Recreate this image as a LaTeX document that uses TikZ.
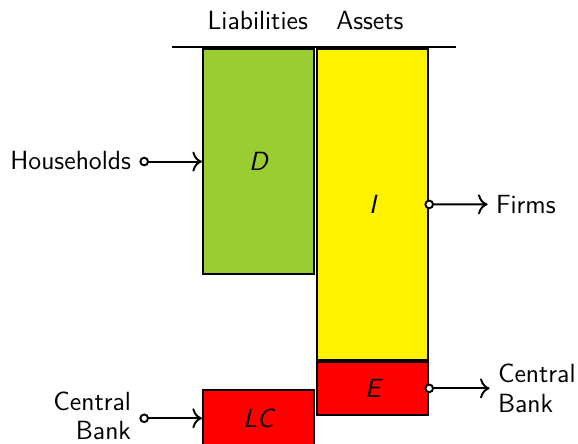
\documentclass[tikz,border=0pt]{standalone}
\usepackage{tikz}
\usetikzlibrary{arrows.meta}
\definecolor{liabgreen}{RGB}{154,205,50}
\tikzset{
  label/.style={font=\sffamily\fontsize{11}{12.5}\selectfont},
  account/.style={draw, line width=0.9pt, font=\sffamily\fontsize{11}{12.5}\selectfont\itshape, anchor=north west, inner sep=0pt},
  flow/.style={thick, {Circle[open,fill=white,length=4pt]}-{To[length=4pt]}},
}
\begin{document}
\begin{tikzpicture}[scale=1.0]
\useasboundingbox (0,0) rectangle (8.5,6.515);

\node[label] (liab) at (3.79,6.22) {Liabilities};
\node[label] (assets) at (5.44,6.22) {Assets};
\coordinate (lineL) at (2.53,5.82);
\coordinate (lineR) at (6.71,5.82);
\draw[thick] (lineL) -- (lineR);

\node[account, fill=liabgreen, minimum width=1.63cm, minimum height=3.31cm] (D) at (2.97,5.81) {D};
\node[account, fill=yellow, minimum width=1.63cm, minimum height=4.57cm] (I) at (4.65,5.81) {I};
\node[account, fill=red, minimum width=1.63cm, minimum height=0.78cm] (E) at (4.65,1.21) {E};
\node[account, fill=red, minimum width=1.63cm, minimum height=0.82cm] (LC) at (2.97,0.79) {LC};

\node[label, anchor=east] (hh) at (2.05,4.16) {Households};
\node[label, anchor=west] (firms) at (7.17,3.51) {Firms};
\node[label, anchor=west, align=left] (cbR) at (7.2,0.80) {Central\\Bank};
\node[label, anchor=east, align=right] (cbL) at (2.05,0.40) {Central\\Bank};

\draw[flow] (hh.east |- D.west) -- (D.west);
\draw[flow, shorten <=-2pt] (I.east) -- (firms.west);
\draw[flow, shorten <=-2pt] (E.east) -- (cbR.west |- E.east);
\draw[flow] (cbL.east |- LC.west) -- (LC.west);
\end{tikzpicture}
\end{document}
